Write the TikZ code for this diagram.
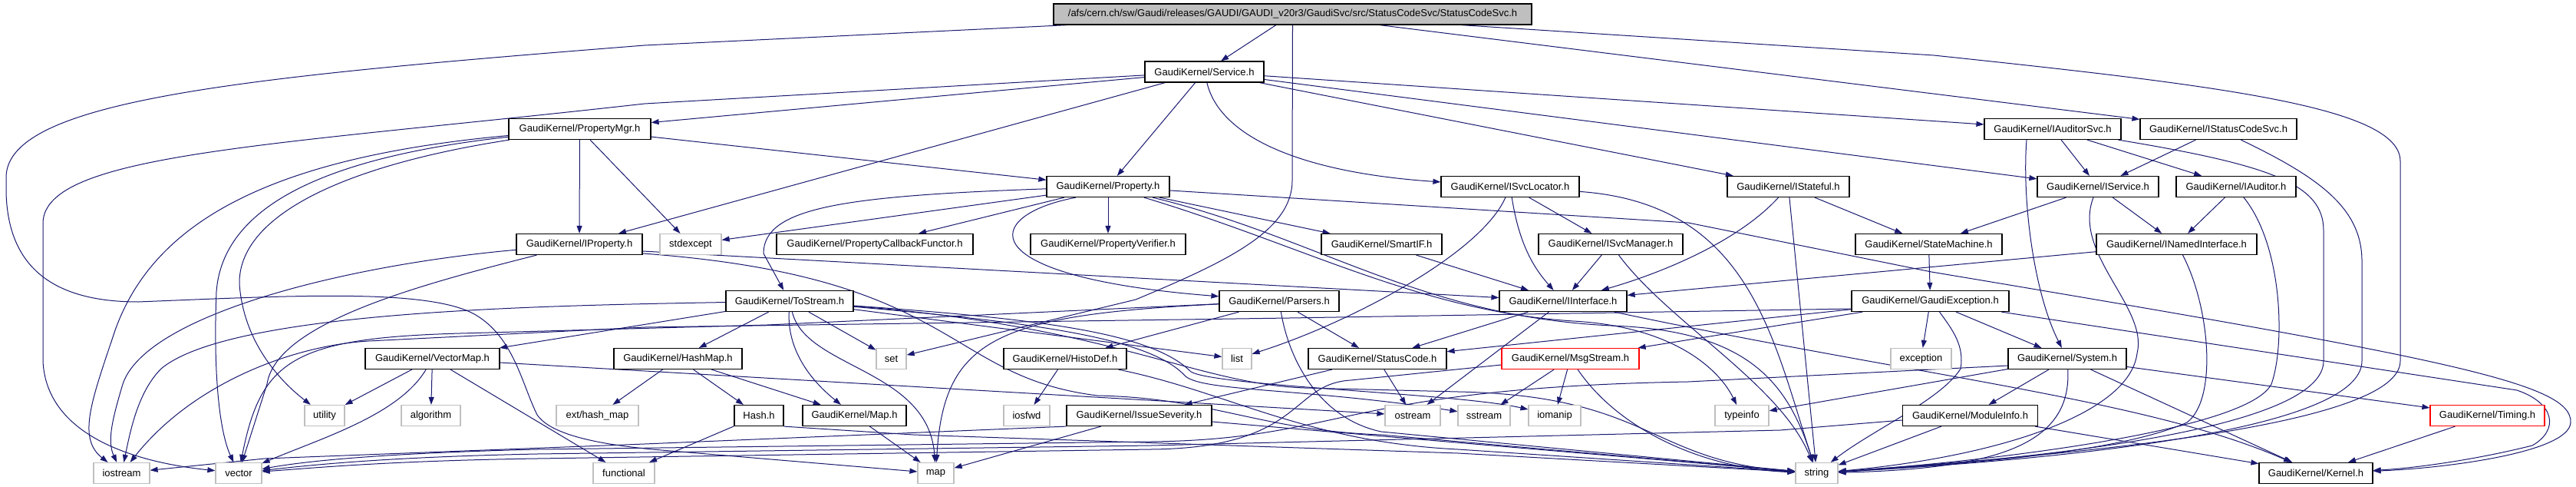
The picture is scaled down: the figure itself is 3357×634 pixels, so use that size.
\documentclass[tikz,border=0pt]{standalone}
\usepackage{fontspec}
\setmainfont{Liberation Sans}
\usetikzlibrary{arrows.meta,backgrounds}
\definecolor{edgeblue}{HTML}{191970}
\definecolor{sysgray}{HTML}{BFBFBF}
\definecolor{rootgray}{HTML}{BFBFBF}
\begin{document}
\begin{tikzpicture}[x=1pt,y=-1pt,
  hdr/.style={draw=black, fill=white, line width=1.2pt, minimum height=27pt, inner sep=0pt, font=\fontsize{13}{15}\selectfont},
  sys/.style={hdr, draw=sysgray},
  trunc/.style={hdr, draw=red},
  rootnode/.style={hdr, fill=rootgray},
  dep/.style={draw=edgeblue, line width=1pt, -{Triangle[length=10pt,width=7pt]}}]
\useasboundingbox (0,0) rectangle (3357,634);
% ---------- nodes ----------
\node[rootnode, minimum width=623pt] (root) at (1684.5,18.5) {/afs/cern.ch/sw/Gaudi/releases/GAUDI/GAUDI\_v20r3/GaudiSvc/src/StatusCodeSvc/StatusCodeSvc.h};
\node[hdr, minimum width=155pt] (svc) at (1569.5,93.5) {GaudiKernel/Service.h};
\node[hdr, minimum width=185pt] (pmgr) at (755.5,168) {GaudiKernel/PropertyMgr.h};
\node[hdr, minimum width=178pt] (iauditorsvc) at (2675,168) {GaudiKernel/IAuditorSvc.h};
\node[hdr, minimum width=204pt] (istatuscodesvc) at (2891,168) {GaudiKernel/IStatusCodeSvc.h};
\node[hdr, minimum width=160pt] (prop) at (1444,243) {GaudiKernel/Property.h};
\node[hdr, minimum width=180pt] (isvcloc) at (1968,243) {GaudiKernel/ISvcLocator.h};
\node[hdr, minimum width=159pt] (istateful) at (2330.5,243) {GaudiKernel/IStateful.h};
\node[hdr, minimum width=158pt] (iservice) at (2734,243) {GaudiKernel/IService.h};
\node[hdr, minimum width=156pt] (iauditor) at (2914,243) {GaudiKernel/IAuditor.h};
\node[hdr, minimum width=164pt] (iprop) at (755,318) {GaudiKernel/IProperty.h};
\node[sys, minimum width=80pt] (stdexcept) at (900,318) {stdexcept};
\node[hdr, minimum width=256pt] (pcf) at (1140,318) {GaudiKernel/PropertyCallbackFunctor.h};
\node[hdr, minimum width=202pt] (pver) at (1444,318) {GaudiKernel/PropertyVerifier.h};
\node[hdr, minimum width=157pt] (smartif) at (1800.5,318) {GaudiKernel/SmartIF.h};
\node[hdr, minimum width=188pt] (isvcmgr) at (2099,318) {GaudiKernel/ISvcManager.h};
\node[hdr, minimum width=191pt] (statemachine) at (2513.5,318) {GaudiKernel/StateMachine.h};
\node[hdr, minimum width=209pt] (inamed) at (2836.5,318) {GaudiKernel/INamedInterface.h};
\node[hdr, minimum width=166pt] (tostream) at (1029,392) {GaudiKernel/ToStream.h};
\node[hdr, minimum width=156pt] (parsers) at (1667,392) {GaudiKernel/Parsers.h};
\node[hdr, minimum width=166pt] (iinterface) at (2037,392) {GaudiKernel/IInterface.h};
\node[hdr, minimum width=205pt] (gexc) at (2515.5,392) {GaudiKernel/GaudiException.h};
\node[hdr, minimum width=175pt] (vectormap) at (563.5,467) {GaudiKernel/VectorMap.h};
\node[hdr, minimum width=167pt] (hashmap) at (883.5,467) {GaudiKernel/HashMap.h};
\node[sys, minimum width=39pt] (set) at (1161.5,467) {set};
\node[hdr, minimum width=160pt] (histodef) at (1388,467) {GaudiKernel/HistoDef.h};
\node[sys, minimum width=38pt] (list) at (1612,467) {list};
\node[hdr, minimum width=180pt] (statuscode) at (1795,467) {GaudiKernel/StatusCode.h};
\node[trunc, minimum width=179pt] (msgstream) at (2046.5,467) {GaudiKernel/MsgStream.h};
\node[sys, minimum width=79pt] (exception) at (2503.5,467) {exception};
\node[hdr, minimum width=154pt] (system) at (2694,467) {GaudiKernel/System.h};
\node[sys, minimum width=52pt] (utility) at (423,541) {utility};
\node[sys, minimum width=77pt] (algorithm) at (561.5,541) {algorithm};
\node[sys, minimum width=107pt] (exthashmap) at (778.5,541) {ext/hash\_map};
\node[hdr, minimum width=64pt] (hash) at (989,541) {Hash.h};
\node[hdr, minimum width=135pt] (mapH) at (1113.5,541) {GaudiKernel/Map.h};
\node[sys, minimum width=60pt] (iosfwd) at (1338,541) {iosfwd};
\node[hdr, minimum width=189pt] (issue) at (1484.5,541) {GaudiKernel/IssueSeverity.h};
\node[sys, minimum width=72pt] (ostream) at (1841,541) {ostream};
\node[sys, minimum width=68pt] (sstream) at (1934,541) {sstream};
\node[sys, minimum width=68pt] (iomanip) at (2026,541) {iomanip};
\node[sys, minimum width=70pt] (typeinfo) at (2270,541) {typeinfo};
\node[hdr, minimum width=176pt] (moduleinfo) at (2567.5,541) {GaudiKernel/ModuleInfo.h};
\node[trunc, minimum width=149pt] (timing) at (3241.5,541) {GaudiKernel/Timing.h};
\node[sys, minimum width=73pt] (iostream) at (158.5,616) {iostream};
\node[sys, minimum width=60pt] (vector) at (311,616) {vector};
\node[sys, minimum width=80pt] (functional) at (813,616) {functional};
\node[sys, minimum width=47pt] (map) at (1219.5,616) {map};
\node[sys, minimum width=55pt] (string) at (2367.5,616) {string};
\node[hdr, minimum width=148pt] (kernel) at (3018,616) {GaudiKernel/Kernel.h};
% ---------- edges ----------
\begin{scope}[on background layer]
\fill[white] (0,0) rectangle (3357,634);
% root
\draw[dep] (root) -- (svc);
\draw[dep] (root) -- (istatuscodesvc);
\draw[dep] (root) -- (2520,72) .. controls (2900,112) and (3128,140) .. (3128,210) -- (3128,470) .. controls (3128,560) and (2650,595) .. (string);
\draw[dep] (root) -- (840,59) .. controls (320,100) and (10,130) .. (8,230) -- (8,250) .. controls (10,340) and (60,393) .. (180,393) .. controls (380,385) and (560,375) .. (620,410) .. controls (670,440) and (680,500) .. (700,540) .. controls (720,570) and (800,580) .. (850,585) -- (map);
\draw[dep] (root.south) -- (1684,235) .. controls (1684,300) and (1600,340) .. (1480,390) -- (set);
% Service.h
\draw[dep] (svc) -- (840,135) .. controls (350,190) and (58,200) .. (56,290) -- (56,470) .. controls (60,560) and (160,600) .. (vector);
\draw[dep] (svc) -- (pmgr);
\draw[dep] (svc) -- (iprop);
\draw[dep] (svc) -- (prop);
\draw[dep] (svc) .. controls (1590,180) and (1700,225) .. (isvcloc);
\draw[dep] (svc) -- (istateful);
\draw[dep] (svc) -- (iauditorsvc);
\draw[dep] (svc) -- (iservice);
% PropertyMgr.h
\draw[dep] (pmgr) -- (iprop);
\draw[dep] (pmgr) -- (prop);
\draw[dep] (pmgr) -- (stdexcept);
\draw[dep] (pmgr) .. controls (350,205) and (200,290) .. (150,430) .. controls (120,520) and (100,570) .. (iostream);
\draw[dep] (pmgr) .. controls (420,205) and (290,270) .. (282,380) .. controls (278,480) and (285,560) .. (vector);
\draw[dep] (pmgr) .. controls (450,215) and (310,280) .. (312,370) .. controls (318,450) and (370,500) .. (utility);
% IProperty.h
\draw[dep] ([yshift=-9pt]iprop.east) -- (iinterface);
\draw[dep] ([yshift=-12pt]iprop.east) .. controls (1250,360) and (1230,490) .. (1430,515) .. controls (1580,518) and (1640,560) .. (1800,566) -- (string);
\draw[dep] (iprop) .. controls (450,345) and (190,410) .. (160,500) .. controls (145,550) and (140,575) .. (iostream);
\draw[dep] (iprop) .. controls (550,370) and (360,420) .. (348,500) -- (vector);
% Property.h
\draw[dep] (prop) .. controls (1100,255) and (995,270) .. (995,330) -- (tostream);
\draw[dep] (prop) -- (stdexcept);
\draw[dep] (prop) -- (pcf);
\draw[dep] (prop) -- (pver);
\draw[dep] ([xshift=-42pt]prop.south) .. controls (1280,280) and (1260,360) .. (parsers);
\draw[dep] (prop) -- (smartif);
\draw[dep] (prop) -- (2200,290) -- (2517,354) .. controls (3200,468) and (3352,500) .. (3350,550) .. controls (3348,590) and (3180,610) .. (kernel);
\draw[dep] (prop) .. controls (1700,320) and (1850,405) .. (2050,418) .. controls (2180,425) and (2240,480) .. (typeinfo);
\draw[dep] (prop) .. controls (1720,310) and (1850,412) .. (2100,424) .. controls (2280,430) and (2330,500) .. (string);
% ISvcLocator.h
\draw[dep] (isvcloc) .. controls (1930,330) and (1760,420) .. (list);
\draw[dep] (isvcloc) .. controls (1980,320) and (2000,350) .. (iinterface);
\draw[dep] (isvcloc) -- (isvcmgr);
\draw[dep] (isvcloc) .. controls (2280,265) and (2310,440) .. (string);
% IStateful.h
\draw[dep] (istateful) .. controls (2260,320) and (2150,360) .. (iinterface);
\draw[dep] (istateful) -- (string);
\draw[dep] (istateful) -- (statemachine);
% SmartIF, ISvcManager, StateMachine
\draw[dep] (smartif) -- (iinterface);
\draw[dep] (isvcmgr) -- (iinterface);
\draw[dep] (isvcmgr) .. controls (2175,420) and (2320,500) .. (string);
\draw[dep] (statemachine) -- (gexc);
% IAuditorSvc.h
\draw[dep] ([xshift=-34pt]iauditorsvc.south) .. controls (2635,260) and (2650,380) .. (system);
\draw[dep] (iauditorsvc) -- (iservice);
\draw[dep] (iauditorsvc) -- (iauditor);
\draw[dep] (iauditorsvc) .. controls (2960,215) and (3028,240) .. (3028,300) -- (3028,470) .. controls (3028,560) and (2650,598) .. (string);
% IStatusCodeSvc.h
\draw[dep] (istatuscodesvc) -- (iservice);
\draw[dep] (istatuscodesvc) .. controls (3020,230) and (3078,270) .. (3078,340) -- (3078,470) .. controls (3078,565) and (2650,600) .. (string);
% IService.h
\draw[dep] (iservice) -- (statemachine);
\draw[dep] (iservice) -- (inamed);
\draw[dep] ([xshift=-6pt]iservice.south) .. controls (2700,330) and (2800,400) .. (2785,460) .. controls (2775,540) and (2600,595) .. (string);
% IAuditor.h
\draw[dep] (iauditor) -- (inamed);
\draw[dep] ([xshift=10pt]iauditor.south) .. controls (2975,320) and (2978,450) .. (2960,500) .. controls (2930,560) and (2600,600) .. (string);
% INamedInterface.h
\draw[dep] (inamed) -- (iinterface);
\draw[dep] ([xshift=8pt]inamed.south) .. controls (2880,400) and (2890,520) .. (2850,550) .. controls (2760,590) and (2550,605) .. (string);
% GaudiException.h
\draw[dep] (gexc) -- (statuscode);
\draw[dep] (gexc) -- (msgstream);
\draw[dep] (gexc) -- (exception);
\draw[dep] ([xshift=12pt]gexc.south) .. controls (2545,430) and (2560,450) .. (2555,480) .. controls (2530,520) and (2440,560) .. (string);
\draw[dep] (gexc) -- (system);
\draw[dep] (gexc) -- (3280,508) .. controls (3330,525) and (3335,560) .. (3300,580) .. controls (3220,600) and (3140,610) .. (kernel);
\draw[dep] ([yshift=-10pt]gexc.west) -- (1680,414) -- (840,426) -- (480,444) .. controls (380,450) and (250,500) .. (iostream);
% System.h
\draw[dep] (system) -- (typeinfo);
\draw[dep] (system) -- (moduleinfo);
\draw[dep] (system) .. controls (2700,580) and (2600,610) .. (string);
\draw[dep] (system) -- (kernel);
\draw[dep] (system) -- (timing);
\draw[dep] ([yshift=-9pt]system.west) -- (2200,497) .. controls (1750,505) and (1750,572) .. (1500,575) -- (700,585) .. controls (500,590) and (400,600) .. (vector);
% ModuleInfo.h, Timing.h
\draw[dep] (moduleinfo) -- (string);
\draw[dep] (moduleinfo) -- (kernel);
\draw[dep] ([yshift=-6pt]moduleinfo.west) -- (2320,560) -- (1500,580) -- (700,591) .. controls (500,595) and (400,606) .. (vector);
\draw[dep] (timing) -- (kernel);
% IInterface.h
\draw[dep] (iinterface) .. controls (2500,490) and (2800,520) .. (kernel);
\draw[dep] (iinterface) -- (statuscode);
\draw[dep] (iinterface) -- (ostream);
% StatusCode.h
\draw[dep] (statuscode) -- (ostream);
\draw[dep] (statuscode) -- (issue);
% MsgStream.h
\draw[dep] (msgstream) -- (sstream);
\draw[dep] (msgstream) -- (iomanip);
\draw[dep] (msgstream) .. controls (2110,560) and (2220,610) .. (string);
\draw[dep] ([yshift=-8pt]msgstream.west) -- (1760,495) .. controls (1680,500) and (1700,583) .. (1500,585) -- (700,597) .. controls (500,600) and (400,610) .. (vector);
% IssueSeverity.h
\draw[dep] (issue) -- (map);
\draw[dep] (issue.south west) -- (840,578) -- (345,597) -- (iostream);
\draw[dep] (issue) -- (string);
% HistoDef.h
\draw[dep] (histodef) -- (iosfwd);
\draw[dep] (histodef) .. controls (1600,510) and (1700,575) .. (1900,585) -- (string);
% Parsers.h
\draw[dep] (parsers) -- (histodef);
\draw[dep] (parsers) -- (statuscode);
\draw[dep] (parsers) .. controls (1300,410) and (1230,440) .. (map);
\draw[dep] (parsers) .. controls (1680,470) and (1720,545) .. (1800,562) -- (string);
\draw[dep] (parsers) -- (1000,423) -- (600,434) .. controls (380,440) and (340,470) .. (vector);
% ToStream.h
\draw[dep] (tostream) -- (hashmap);
\draw[dep] (tostream) -- (set);
\draw[dep] (tostream) .. controls (1026,450) and (1050,490) .. (mapH);
\draw[dep] (tostream) .. controls (1050,480) and (1210,480) .. (map);
\draw[dep] (tostream) -- (list);
\draw[dep] (tostream) -- (vectormap);
\draw[dep] (tostream) .. controls (700,398) and (300,405) .. (210,480) .. controls (180,510) and (170,560) .. (iostream);
\draw[dep] (tostream) .. controls (1350,420) and (1500,440) .. (1545,490) .. controls (1570,510) and (1700,505) .. (sstream);
\draw[dep] (tostream) .. controls (1350,415) and (1500,432) .. (1552,484) .. controls (1585,503) and (1900,512) .. (iomanip);
\draw[dep] (tostream) .. controls (1450,425) and (1560,500) .. (1700,505) -- (1900,510) .. controls (2150,515) and (2150,600) .. (string);
% VectorMap.h
\draw[dep] (vectormap) -- (utility);
\draw[dep] (vectormap) -- (algorithm);
\draw[dep] (vectormap) .. controls (520,540) and (420,570) .. (vector);
\draw[dep] (vectormap) -- (functional);
\draw[dep] (vectormap) -- (ostream);
% HashMap.h, Hash.h, Map.h
\draw[dep] (hashmap) -- (exthashmap);
\draw[dep] (hashmap) -- (hash);
\draw[dep] (hashmap) -- (mapH);
\draw[dep] (hash) -- (functional);
\draw[dep] (hash.south east) -- (1190,566) -- (1900,590) -- (string);
\draw[dep] (mapH) -- (map);
\end{scope}
\end{tikzpicture}
\end{document}
